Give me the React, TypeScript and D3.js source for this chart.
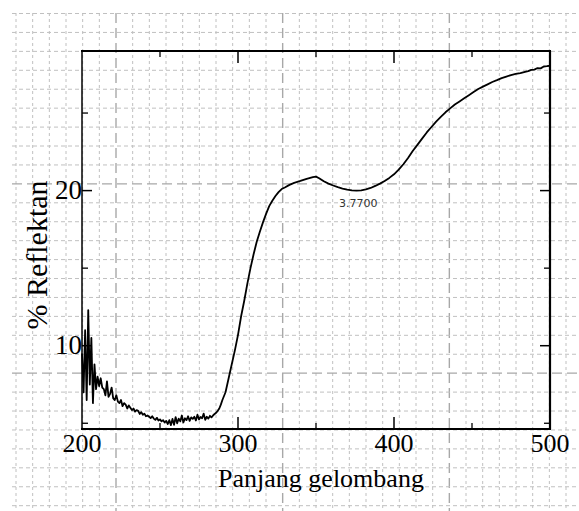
import React from "react";
import * as d3 from "d3";

// ---- data ----
const wavelength: number[] = [
  200, 201, 202, 203, 204, 205, 206, 207, 208, 209, 210, 211, 212, 213, 214, 215, 216, 217, 218, 219,
  220, 221, 222, 223, 224, 225, 226, 227, 228, 229, 230, 231, 232, 233, 234, 235, 236, 237, 238, 239,
  240, 241, 242, 243, 244, 245, 246, 247, 248, 249, 250, 251, 252, 253, 254, 255, 256, 257, 258, 259,
  260, 261, 262, 263, 264, 265, 266, 267, 268, 269, 270, 271, 272, 273, 274, 275, 276, 277, 278, 279,
  280, 281, 282, 283, 284, 285, 286, 287, 288, 289, 290,
  292, 294, 296, 298, 300, 302, 304, 306, 308, 310, 312, 314, 316, 318, 320, 322, 324, 326, 328, 330,
  333, 336, 340, 344, 348, 350, 352, 355, 358, 361, 364, 367, 370, 373, 376, 379, 382, 385, 388, 391,
  394, 397, 400, 403, 406, 409, 412, 415, 418, 421, 424, 427, 430, 433, 436, 439, 442, 445, 448, 451,
  454, 457, 460, 463, 466, 469, 472, 475, 478, 481, 484, 486, 488, 490, 492, 494, 496, 498, 500,
];
const reflectance: number[] = [
  9.5, 7.0, 11.0, 6.5, 12.3, 7.5, 10.5, 6.3, 8.8, 7.2, 8.0, 7.4, 7.9, 7.3, 7.2, 6.8, 7.7, 6.7, 6.9, 7.3,
  6.6, 6.5, 6.8, 6.4, 6.3, 6.5, 6.1, 6.3, 6.2, 5.95, 6.15, 6.0, 5.85, 5.95, 5.75, 5.85, 5.8, 5.6, 5.72, 5.55,
  5.62, 5.45, 5.5, 5.42, 5.33, 5.45, 5.3, 5.22, 5.35, 5.18, 5.25, 5.12, 5.2, 5.05, 5.15, 4.95, 5.2, 4.88, 5.28, 4.9,
  5.4, 5.0, 5.3, 5.12, 5.5, 5.05, 5.32, 5.2, 5.45, 5.15, 5.38, 5.28, 5.42, 5.18, 5.55, 5.25, 5.4, 5.32, 5.62, 5.22,
  5.42, 5.3, 5.48, 5.38, 5.5, 5.6, 5.68, 5.8, 5.95, 6.2, 6.5,
  7.0, 7.9, 8.8, 9.7, 10.7, 11.9, 12.9, 14.0, 15.0, 15.9, 16.7, 17.35, 17.95, 18.5, 19.0, 19.35, 19.65, 19.9, 20.1, 20.2,
  20.37, 20.5, 20.62, 20.75, 20.87, 20.9, 20.8, 20.6, 20.45, 20.33, 20.22, 20.13, 20.06, 20.01, 20.0, 20.02, 20.08, 20.17, 20.3, 20.45,
  20.62, 20.82, 21.05, 21.35, 21.7, 22.1, 22.55, 22.95, 23.35, 23.75, 24.1, 24.45, 24.75, 25.05, 25.3, 25.55, 25.75, 25.95, 26.15, 26.35,
  26.55, 26.7, 26.85, 27.0, 27.12, 27.25, 27.35, 27.45, 27.52, 27.58, 27.66, 27.7, 27.78, 27.8, 27.9, 27.88, 28.0, 28.02, 28.05,
];
const xDomain: [number, number] = [200, 500];
const yDomain: [number, number] = [4.63, 29.0];
const xMajorTicks = [200, 300, 400, 500];
const xMinorTicks = [250, 350, 450];
const yMajorTicks = [10, 20];
const yMinorTicks = [5, 15, 25];
const xTitle = "Panjang gelombang";
const yTitle = "% Reflektan";
const annotation = "3.7700";

const W = 579;
const H = 511;
const L = 82, R = 550, T = 51, B = 429;

export default function App() {
  const x = d3.scaleLinear().domain(xDomain).range([L, R]);
  const y = d3.scaleLinear().domain(yDomain).range([B, T]);
  const line = d3
    .line<number>()
    .x((_, i) => x(wavelength[i]))
    .y((d) => y(d));
  const path = line(reflectance) || "";

  // background graph-paper grid (decorative)
  const vLines: { p: number; bold: boolean }[] = [];
  for (let k = 0; 16 + k * 16.667 < W; k++) vLines.push({ p: 16 + k * 16.667, bold: k % 10 === 6 });
  const hLines: { p: number; bold: boolean }[] = [];
  for (let k = 0; 13.5 + k * 18.93 < H; k++) hLines.push({ p: 13.5 + k * 18.93, bold: k % 10 === 9 });

  const serif = "'Liberation Serif', 'Times New Roman', serif";

  return (
    <svg
      width={W}
      height={H}
      style={{ position: "absolute", left: 0, top: 0, background: "#fff" }}
    >
      <g>
        {vLines.map((l, i) => (
          <line
            key={"v" + i}
            x1={l.p}
            x2={l.p}
            y1={13}
            y2={H}
            stroke={l.bold ? "#a8a8a8" : "#c0c0c0"}
            strokeWidth={l.bold ? 1.4 : 1}
            strokeDasharray={l.bold ? "10,5" : "3,3"}
          />
        ))}
        {hLines.map((l, i) => (
          <line
            key={"h" + i}
            x1={12}
            x2={W}
            y1={l.p}
            y2={l.p}
            stroke={l.bold ? "#a8a8a8" : "#c0c0c0"}
            strokeWidth={l.bold ? 1.4 : 1}
            strokeDasharray={l.bold ? "10,5" : "4,3"}
          />
        ))}
      </g>

      {/* data curve */}
      <path d={path} fill="none" stroke="#000" strokeWidth={1.8} strokeLinejoin="round" />

      {/* frame */}
      <line x1={L} x2={L} y1={T} y2={B} stroke="#000" strokeWidth={1.5} />
      <line x1={L - 1} x2={R + 1} y1={T} y2={T} stroke="#000" strokeWidth={2.2} />
      <line x1={L - 1} x2={R + 1} y1={B} y2={B} stroke="#000" strokeWidth={2.2} />
      <line x1={R} x2={R} y1={T} y2={B} stroke="#000" strokeWidth={2.2} />

      {/* x ticks */}
      {xMajorTicks.filter((t) => t > xDomain[0] && t < xDomain[1]).map((t) => (
        <g key={"xm" + t}>
          <line x1={x(t)} x2={x(t)} y1={B} y2={B - 12} stroke="#000" strokeWidth={1.5} />
          <line x1={x(t)} x2={x(t)} y1={T} y2={T + 12} stroke="#000" strokeWidth={1.5} />
        </g>
      ))}
      {xMinorTicks.map((t) => (
        <g key={"xn" + t}>
          <line x1={x(t)} x2={x(t)} y1={B} y2={B - 6} stroke="#000" strokeWidth={1.3} />
          <line x1={x(t)} x2={x(t)} y1={T} y2={T + 6} stroke="#000" strokeWidth={1.3} />
        </g>
      ))}
      {xMajorTicks.map((t) => (
        <text
          key={"xl" + t}
          x={x(t)}
          y={452}
          textAnchor="middle"
          fontFamily={serif}
          fontSize={26}
          fill="#000"
        >
          {t}
        </text>
      ))}

      {/* y ticks */}
      {yMajorTicks.map((t) => (
        <g key={"ym" + t}>
          <line x1={L} x2={L + 10} y1={y(t)} y2={y(t)} stroke="#000" strokeWidth={1.5} />
          <line x1={R} x2={R - 10} y1={y(t)} y2={y(t)} stroke="#000" strokeWidth={1.5} />
          <text
            x={L}
            y={y(t) + 8}
            textAnchor="end"
            fontFamily={serif}
            fontSize={27}
            fill="#000"
          >
            {t}
          </text>
        </g>
      ))}
      {yMinorTicks.map((t) => (
        <g key={"yn" + t}>
          <line x1={L} x2={L + 6} y1={y(t)} y2={y(t)} stroke="#000" strokeWidth={1.3} />
          <line x1={R} x2={R - 6} y1={y(t)} y2={y(t)} stroke="#000" strokeWidth={1.3} />
        </g>
      ))}

      {/* titles */}
      <text x={321} y={487} textAnchor="middle" fontFamily={serif} fontSize={26} fill="#000">
        {xTitle}
      </text>
      <text
        transform={`translate(47,255) rotate(-90)`}
        textAnchor="middle"
        fontFamily={serif}
        fontSize={30}
        fill="#000"
      >
        {yTitle}
      </text>

      {/* annotation */}
      <text x={339} y={206.5} fontFamily="'DejaVu Sans', sans-serif" fontSize={11} fill="#333">
        {annotation}
      </text>
    </svg>
  );
}
